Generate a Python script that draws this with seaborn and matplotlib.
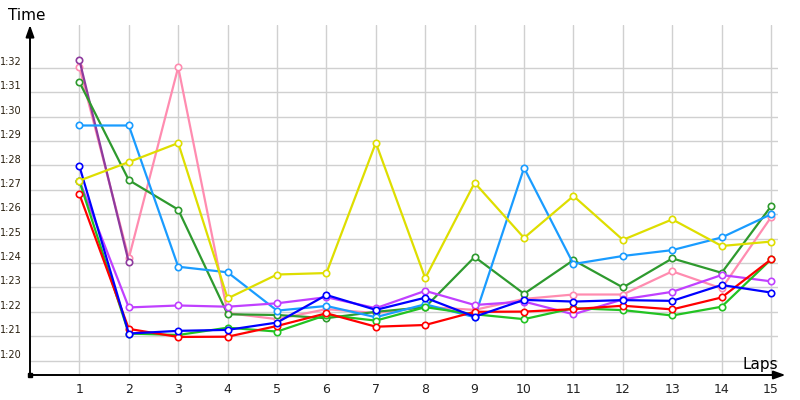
import matplotlib
matplotlib.use("Agg")
import matplotlib.pyplot as plt
import matplotlib.transforms as mtransforms
import numpy as np
import pandas as pd
import seaborn as sns

sns.set_style("white")
plt.rcParams['font.family'] = ['DejaVu Sans']

laps = list(range(1, 16))
lap_labels = [str(i) for i in laps]

# lap times in seconds
red = [86.82, 81.30, 80.97, 80.98, 81.42, 81.94, 81.39, 81.46, 82.00, 82.01, 82.11, 82.25, 82.10, 82.59, 84.15]
lime = [87.36, 81.11, 81.05, 81.35, 81.19, 81.87, 81.64, 82.19, 81.90, 81.70, 82.15, 82.07, 81.85, 82.21, 84.15]
blue = [87.97, 81.11, 81.22, 81.26, 81.56, 82.69, 82.08, 82.58, 81.80, 82.49, 82.42, 82.48, 82.45, 83.10, 82.79]
violet = [87.38, 82.18, 82.26, 82.21, 82.35, 82.60, 82.15, 82.86, 82.28, 82.42, 81.90, 82.51, 82.82, 83.51, 83.25]
lightblue = [89.64, 89.64, 83.85, 83.62, 82.05, 82.24, 81.78, 82.31, 81.78, 87.90, 83.96, 84.29, 84.53, 85.05, 86.00]
yellow = [87.38, 88.14, 88.92, 82.55, 83.53, 83.59, 88.93, 83.38, 87.29, 85.03, 86.75, 84.95, 85.79, 84.70, 84.88]
darkgreen = [91.42, 87.40, 86.19, 81.90, 81.87, 81.74, 82.00, 82.19, 84.25, 82.74, 84.12, 83.00, 84.19, 83.60, 86.33]
pink = [92.03, 84.20, 92.03, 81.95, 81.70, 82.11, 81.95, 82.20, 82.08, 82.53, 82.71, 82.71, 83.66, 82.96, 85.88]
purple = [92.32, 84.03]

y_ticks = [80, 81, 82, 83, 84, 85, 86, 87, 88, 89, 90, 91, 92]
y_labels = ["1:20", "1:21", "1:22", "1:23", "1:24", "1:25", "1:26",
            "1:27", "1:28", "1:29", "1:30", "1:31", "1:32"]

series = [
    (pink, '#ff8cb0'),
    (purple, '#8e3a9e'),
    (darkgreen, '#2e9a2e'),
    (lightblue, '#1a9cff'),
    (violet, '#c040ff'),
    (lime, '#22c322'),
    (red, '#ff0000'),
    (blue, '#0000ff'),
    (yellow, '#dede00'),
]

fig = plt.figure(figsize=(8, 4), dpi=100)
ax = fig.add_axes([30/800, 25/400, 748/800, 350/400])

for i, (vals, col) in enumerate(series):
    df = pd.DataFrame({'lap': laps[:len(vals)], 'time': vals})
    sns.lineplot(data=df, x='lap', y='time', ax=ax, color=col, lw=1.6,
                 marker='o', markersize=4.6, markerfacecolor='white',
                 markeredgecolor=col, markeredgewidth=1.2, zorder=3 + i,
                 clip_on=False)

ax.set_xlim(0, 15.14)
ax.set_ylim(79.41, 93.76)
ax.set_xticks(laps)
ax.set_xticklabels(lap_labels, fontsize=9, color='#222222')
ax.set_yticks(y_ticks)
ax.set_yticklabels(y_labels, fontsize=7, color='#2a2010')
ax.tick_params(axis='both', length=0)
ax.tick_params(axis='x', pad=6)
ax.tick_params(axis='y', pad=6)
offset = mtransforms.ScaledTranslation(0, 5/72, fig.dpi_scale_trans)
for lab in ax.get_yticklabels():
    lab.set_transform(lab.get_transform() + offset)

ax.grid(True, color='#d0d0d0', lw=1)
ax.set_axisbelow(True)
for s in ax.spines.values():
    s.set_visible(False)
ax.set_xlabel('')
ax.set_ylabel('')
ax.set_facecolor('white')

ap = dict(arrowstyle='-|>,head_length=0.7,head_width=0.25', lw=1.4,
          color='black', shrinkA=0, shrinkB=0)
ax.annotate('', xy=(1.01, 0), xycoords='axes fraction', xytext=(0, 0),
            arrowprops=ap, annotation_clip=False)
ax.annotate('', xy=(0, 1.0), xycoords='axes fraction', xytext=(0, 0),
            arrowprops=ap, annotation_clip=False)
ax.plot([0], [0], marker='s', color='black', ms=3, transform=ax.transAxes,
        clip_on=False, zorder=20)

fig.text(8/800, 1 - 15/400, 'Time', fontsize=11, ha='left', va='center', color='black')
fig.text(743/800, 1 - 364/400, 'Laps', fontsize=11, ha='left', va='center', color='black')

fig.savefig('out.png', dpi=100, facecolor='white')
